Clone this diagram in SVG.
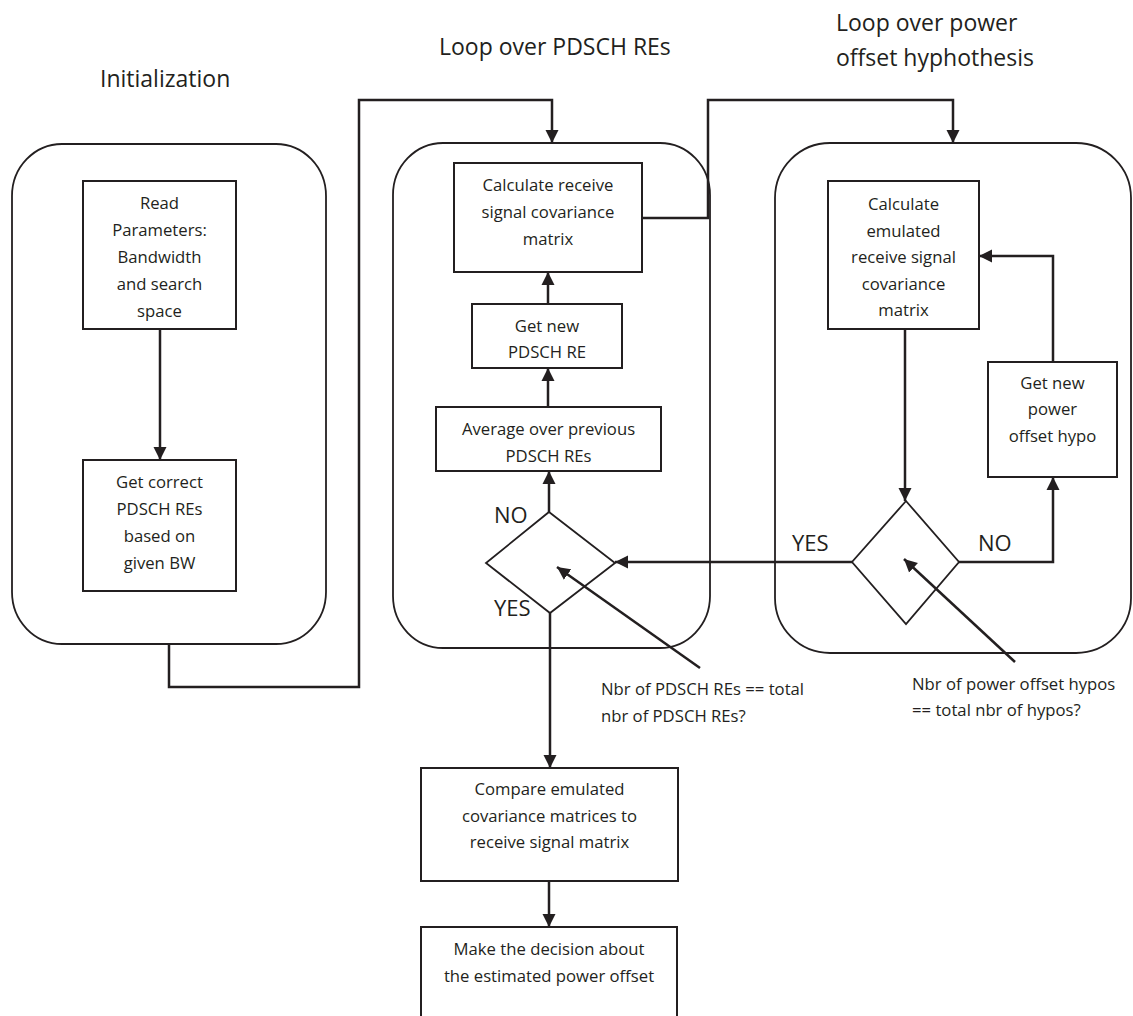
<svg xmlns="http://www.w3.org/2000/svg" width="1133" height="1016" viewBox="0 0 1133 1016">
  <style>
    .bg { fill: #ffffff; }
    .loop { fill: none; stroke: #231f20; stroke-width: 1.8; }
    .box { fill: #ffffff; stroke: #231f20; stroke-width: 2; }
    .dec { fill: none; stroke: #231f20; stroke-width: 1.8; }
    .wire { fill: none; stroke: #231f20; stroke-width: 2.5; }
    .title { font-family: "Open Sans", "Noto Sans", sans-serif; font-size: 23px; fill: #231f20; }
    .lbl { font-family: "Open Sans", "Noto Sans", sans-serif; font-size: 16.7px; fill: #231f20; text-anchor: middle; }
    .note { font-family: "Open Sans", "Noto Sans", sans-serif; font-size: 16.7px; fill: #231f20; }
    .yn { font-family: "Open Sans", "Noto Sans", sans-serif; font-size: 22px; fill: #231f20; }
  </style>
  <defs>
    <marker id="head" markerUnits="userSpaceOnUse" markerWidth="14" markerHeight="14" refX="13" refY="7" orient="auto">
      <path d="M0,0.5 L13,7 L0,13.5 z" fill="#231f20"/>
    </marker>
  </defs>

  <rect class="bg" x="0" y="0" width="1133" height="1016"/>

  <!-- section titles -->
  <g id="titles">
    <text class="title" x="100" y="87">Initialization</text>
    <text class="title" x="439" y="55">Loop over PDSCH REs</text>
    <text class="title" x="836" y="31">Loop over power</text>
    <text class="title" x="836" y="66">offset hyphothesis</text>
  </g>

  <!-- stage frames -->
  <g id="stage-init"><rect class="loop" x="12" y="144" width="314" height="500" rx="50" ry="52"/></g>
  <g id="stage-re-loop"><rect class="loop" x="393" y="143" width="317" height="505" rx="50" ry="52"/></g>
  <g id="stage-hypo-loop"><rect class="loop" x="775" y="143" width="356" height="510" rx="55" ry="55"/></g>

  <!-- connectors -->
  <g id="connectors">
    <path class="wire" d="M160,329 V460" marker-end="url(#head)"/>
    <path class="wire" d="M169,644 V687 H359 V100 H552 V143" marker-end="url(#head)"/>
    <path class="wire" d="M642,218 H708 V100 H953 V143" marker-end="url(#head)"/>
    <path class="wire" d="M548,304 V272" marker-end="url(#head)"/>
    <path class="wire" d="M548,407 V368" marker-end="url(#head)"/>
    <path class="wire" d="M549,512 V471" marker-end="url(#head)"/>
    <path class="wire" d="M550,613 V768" marker-end="url(#head)"/>
    <path class="wire" d="M549,881 V927" marker-end="url(#head)"/>
    <path class="wire" d="M905,329 V501" marker-end="url(#head)"/>
    <path class="wire" d="M852,562 H615" marker-end="url(#head)"/>
    <path class="wire" d="M959,562 H1053 V477" marker-end="url(#head)"/>
    <path class="wire" d="M1053,362 V256 H979" marker-end="url(#head)"/>
    <path class="wire" d="M700,668 L557,567" marker-end="url(#head)"/>
    <path class="wire" d="M1015,662 L904,559" marker-end="url(#head)"/>
  </g>

  <!-- initialization steps -->
  <g id="read-params">
    <rect class="box" x="83" y="181" width="153" height="148"/>
    <text class="lbl" x="159.5" y="209">Read</text>
    <text class="lbl" x="159.5" y="236">Parameters:</text>
    <text class="lbl" x="159.5" y="263">Bandwidth</text>
    <text class="lbl" x="159.5" y="290">and search</text>
    <text class="lbl" x="159.5" y="317">space</text>
  </g>
  <g id="get-correct-res">
    <rect class="box" x="83" y="460" width="153" height="131"/>
    <text class="lbl" x="159.5" y="488">Get correct</text>
    <text class="lbl" x="159.5" y="515">PDSCH REs</text>
    <text class="lbl" x="159.5" y="542">based on</text>
    <text class="lbl" x="159.5" y="569">given BW</text>
  </g>

  <!-- PDSCH RE loop -->
  <g id="calc-rx-cov">
    <rect class="box" x="454" y="163" width="188" height="109"/>
    <text class="lbl" x="548" y="191">Calculate receive</text>
    <text class="lbl" x="548" y="218">signal covariance</text>
    <text class="lbl" x="548" y="245">matrix</text>
  </g>
  <g id="get-new-re">
    <rect class="box" x="472" y="304" width="150" height="64"/>
    <text class="lbl" x="547" y="332">Get new</text>
    <text class="lbl" x="547" y="358">PDSCH RE</text>
  </g>
  <g id="average-res">
    <rect class="box" x="436" y="407" width="225" height="64"/>
    <text class="lbl" x="548.5" y="435">Average over previous</text>
    <text class="lbl" x="548.5" y="462">PDSCH REs</text>
  </g>
  <g id="re-decision">
    <path class="dec" d="M549,512 L615,563 L550,613 L486,563 Z"/>
    <text class="yn" x="494" y="523">NO</text>
    <text class="yn" x="494" y="616">YES</text>
  </g>

  <!-- power offset hypothesis loop -->
  <g id="calc-emulated-cov">
    <rect class="box" x="828" y="181" width="151" height="148"/>
    <text class="lbl" x="903.5" y="210">Calculate</text>
    <text class="lbl" x="903.5" y="237">emulated</text>
    <text class="lbl" x="903.5" y="263">receive signal</text>
    <text class="lbl" x="903.5" y="290">covariance</text>
    <text class="lbl" x="903.5" y="316">matrix</text>
  </g>
  <g id="get-new-hypo">
    <rect class="box" x="988" y="362" width="129" height="115"/>
    <text class="lbl" x="1052.5" y="389">Get new</text>
    <text class="lbl" x="1052.5" y="415">power</text>
    <text class="lbl" x="1052.5" y="442">offset hypo</text>
  </g>
  <g id="hypo-decision">
    <path class="dec" d="M906,501 L959,562 L906,624 L852,562 Z"/>
    <text class="yn" x="792" y="551">YES</text>
    <text class="yn" x="978" y="551">NO</text>
  </g>

  <!-- decision notes -->
  <g id="note-re">
    <text class="note" x="601" y="695">Nbr of PDSCH REs == total</text>
    <text class="note" x="601" y="722">nbr of PDSCH REs?</text>
  </g>
  <g id="note-hypo">
    <text class="note" x="912" y="690">Nbr of power offset hypos</text>
    <text class="note" x="912" y="716">== total nbr of hypos?</text>
  </g>

  <!-- final steps -->
  <g id="compare">
    <rect class="box" x="421" y="768" width="257" height="113"/>
    <text class="lbl" x="549.5" y="795">Compare emulated</text>
    <text class="lbl" x="549.5" y="822">covariance matrices to</text>
    <text class="lbl" x="549.5" y="848">receive signal matrix</text>
  </g>
  <!-- the last step runs on past the lower edge of the sheet -->
  <g id="decide">
    <rect class="box" x="421" y="927" width="256" height="100"/>
    <text class="lbl" x="549" y="955">Make the decision about</text>
    <text class="lbl" x="549" y="982">the estimated power offset</text>
  </g>
</svg>
